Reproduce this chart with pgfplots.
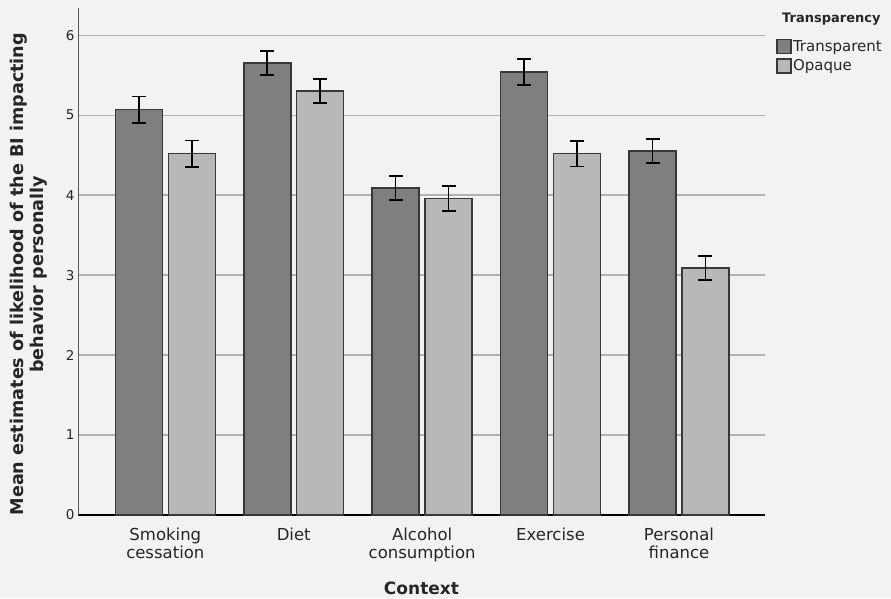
\documentclass[border=0pt]{standalone}
\usepackage{pgfplots}
\usepackage{pgfplotstable}
\pgfplotsset{compat=1.18}
\usepackage{fontspec}
\setmainfont{DejaVu Sans}

\definecolor{bg}{HTML}{F2F2F2}
\definecolor{darkbar}{HTML}{7F7F7F}
\definecolor{lightbar}{HTML}{B8B8B8}
\definecolor{barline}{HTML}{383838}
\definecolor{gridc}{HTML}{B2B2B2}

% mean and half-width of the error bar for each context
\pgfplotstableread{
x y e
0 5.07 0.165
1 5.65 0.150
2 4.09 0.150
3 5.54 0.160
4 4.55 0.150
}\datatransp
\pgfplotstableread{
x y e
0 4.52 0.165
1 5.30 0.150
2 3.96 0.155
3 4.52 0.160
4 3.09 0.150
}\dataopaque

\pgfplotsset{
  errstyle/.style={error bars/.cd, y dir=both, y explicit,
    error bar style={black, line width=1.6pt},
    error mark options={rotate=90, mark size=7pt, line width=1.6pt, black}},
}

\begin{document}
\begin{tikzpicture}
\fill[bg] (0pt,0pt) rectangle (891pt,598pt);
\begin{axis}[
  at={(78pt,83pt)}, anchor=south west,
  scale only axis, width=687pt, height=507pt,
  xmin=-0.68, xmax=4.67, ymin=0, ymax=6.34,
  axis x line*=bottom, axis y line*=left,
  x axis line style={black, line width=2.8pt},
  y axis line style={draw=black!65, line width=0.8pt},
  major tick length=0pt,
  xtick={0,1,2,3,4},
  xticklabels={{Smoking\\cessation},Diet,{Alcohol\\consumption},Exercise,{Personal\\finance}},
  xticklabel style={align=center, font=\fontsize{16.5}{18}\selectfont, text=black!85, yshift=-9pt},
  ytick={0,1,2,3,4,5,6},
  yticklabel style={font=\fontsize{13.5}{15}\selectfont, text=black!85},
  /pgf/number format/assume math mode=true,
  ymajorgrids, grid style={gridc, line width=1.3pt},
  xlabel={Context},
  xlabel style={at={(axis description cs:0.5,0)}, anchor=center, yshift=-73pt,
    font=\bfseries\fontsize{17}{20}\selectfont, text=black!85},
  ylabel={Mean estimates of likelihood of the BI impacting\\behavior personally},
  ylabel style={at={(axis description cs:-0.0713,0.475)}, anchor=center, align=center,
    font=\bfseries\fontsize{17.6}{20}\selectfont, text=black!85},
  legend style={at={(rel axis cs:1.016,0.94)}, anchor=north west, draw=none, fill=none,
    inner sep=0pt, row sep=4pt, font=\fontsize{15}{17}\selectfont,
    nodes={text=black!85, inner sep=1.5pt}},
  legend cell align=left,
  clip=false,
]
\addplot[ybar, bar width=0.366, bar shift=0pt, fill=darkbar, draw=barline, line width=1.5pt,
  legend image code/.code={\draw[fill=darkbar, draw=barline, line width=1.3pt] (0pt,-7pt) rectangle (14pt,7pt);},
  errstyle]
  table[x expr=\thisrow{x}-0.206, y=y, y error=e] {\datatransp};
\addlegendentry{Transparent}
\addplot[ybar, bar width=0.366, bar shift=0pt, fill=lightbar, draw=barline, line width=1.5pt,
  legend image code/.code={\draw[fill=lightbar, draw=barline, line width=1.3pt] (0pt,-7pt) rectangle (14pt,7pt);},
  errstyle]
  table[x expr=\thisrow{x}+0.206, y=y, y error=e] {\dataopaque};
\addlegendentry{Opaque}
\node[anchor=west, inner sep=0pt, font=\bfseries\fontsize{13}{15}\selectfont, text=black!85]
  at (rel axis cs:1.0247,0.978) {Transparency};
\end{axis}
\pgfresetboundingbox
\path[use as bounding box] (0pt,0pt) rectangle (891pt,598pt);
\end{tikzpicture}
\end{document}
